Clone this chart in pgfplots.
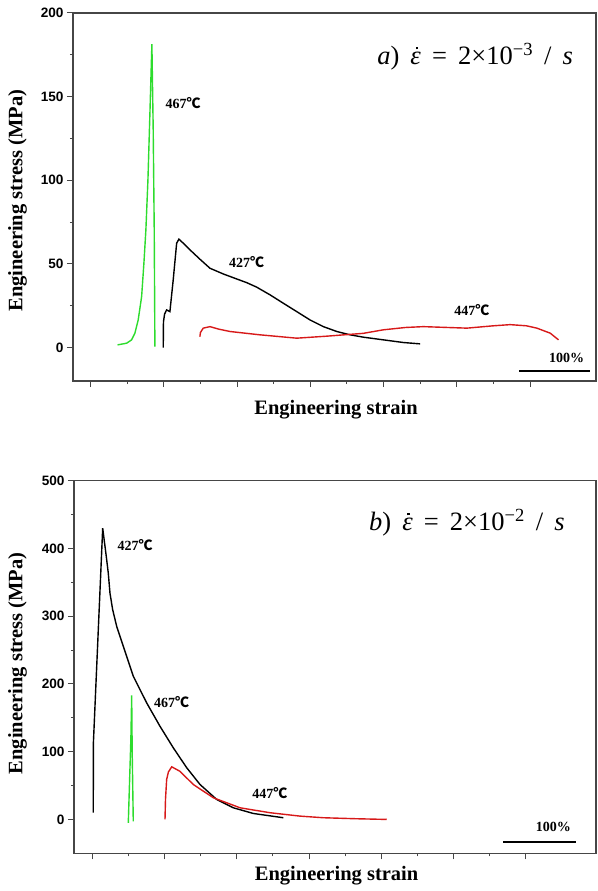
\documentclass[border=0pt]{standalone}
\usepackage{fontspec}
\setmainfont{Liberation Serif}
\newfontfamily\ticksans{Liberation Sans}
\newfontfamily\cjk{Noto Sans CJK SC}
\usepackage{pgfplots}
\pgfplotsset{compat=1.18}

\definecolor{cgreen}{RGB}{45,220,45}
\definecolor{cred}{RGB}{215,25,25}
\definecolor{caxis}{RGB}{70,70,70}

\newcommand{\degC}{{\cjk ℃}}
\newcommand{\gap}{\hspace{0.42em}}
\newcommand{\epsdot}{\textit{ε}\llap{\raisebox{0.58em}{\rule{0.1em}{0.1em}}\hspace{0.1em}}}

\tikzset{curvelab/.style={font=\fontsize{14}{15}\selectfont\bfseries}}

\pgfplotsset{
  panel/.style={
    scale only axis,
    anchor=north west,
    axis line style={caxis, line width=1.2pt},
    tick style={caxis, line width=1pt},
    tick align=outside,
    tick pos=left,
    major tick length=6pt,
    minor tick length=3pt,
    xtick={0,1,...,6},
    minor x tick num=1,
    xticklabels={},
    minor y tick num=1,
    /pgf/number format/assume math mode=true,
    yticklabel style={font=\fontsize{13.6}{14}\selectfont\ticksans\bfseries},
    label style={font=\fontsize{20.5}{22}\selectfont\bfseries},
    ylabel={Engineering stress (MPa)},
    xlabel={Engineering strain},
  },
}

\begin{document}
\begin{tikzpicture}
\useasboundingbox (0,0) rectangle (597pt,-891pt);

% ---------- panel a ----------
\begin{axis}[panel,
  at={(73pt,-13pt)}, width=523pt, height=368pt,
  xmin=-0.24, xmax=6.90, ymin=-20, ymax=200,
  ytick={0,50,...,200},
  ylabel style={at={(axis description cs:-0.106,0.49)}, anchor=center},
  xlabel style={at={(axis description cs:0.503,-0.079)}, anchor=center},
]
\addplot[cgreen, line width=1.4pt] coordinates {
(0.369,1.6) (0.492,2.6) (0.560,4.6) (0.605,8.6) (0.650,16.5) (0.697,30.5) (0.728,50.4) (0.755,70.3) (0.783,100.2) (0.810,140) (0.837,181.4) (0.855,130) (0.869,70) (0.878,0.6)};
\addplot[black, line width=1.4pt] coordinates {
(0.992,0) (0.995,15.3) (1.010,20) (1.038,22.5) (1.083,21.5) (1.128,40.4) (1.175,62.4) (1.206,64.8) (1.265,62.4) (1.357,58.4) (1.493,52.8) (1.630,47.4) (1.811,44) (1.995,41) (2.131,38.8) (2.268,36.1) (2.450,31.5) (2.631,26.5) (2.814,21.5) (2.996,16.5) (3.178,12.5) (3.361,9.6) (3.543,7.6) (3.724,6.2) (3.997,4.6) (4.271,3) (4.499,2.2)};
\addplot[cred, line width=1.4pt] coordinates {
(1.492,6.5) (1.500,9) (1.538,11.6) (1.630,12.5) (1.75,11) (1.903,9.6) (2.313,7.6) (2.814,5.6) (3.224,6.8) (3.724,8.5) (3.997,10.6) (4.3,12) (4.544,12.5) (5.137,11.6) (5.5,13) (5.728,13.7) (5.95,13) (6.093,11.6) (6.275,8.6) (6.388,4.6)};
\addplot[black, line width=2.2pt] coordinates {(5.855,-13.9) (6.82,-13.9)};
\node[curvelab] at (axis cs:6.5,-6) {100\%};
\node[curvelab] at (axis cs:1.265,146) {467\degC};
\node[curvelab] at (axis cs:2.131,50.8) {427\degC};
\node[curvelab] at (axis cs:5.205,22.5) {447\degC};
\node[font=\fontsize{26.5}{28}\selectfont, inner sep=0pt] at (axis cs:5.25,173.8) {\textit{a})\gap\epsdot\gap=\gap2×10\textsuperscript{−3}\gap/\gap\textit{s}};
\end{axis}

% ---------- panel b ----------
\begin{axis}[panel,
  at={(74pt,-480.7pt)}, width=522pt, height=372.6pt,
  xmin=-0.259, xmax=6.98, ymin=-50, ymax=500,
  ytick={0,100,...,500},
  ylabel style={at={(axis description cs:-0.108,0.51)}, anchor=center},
  xlabel style={at={(axis description cs:0.503,-0.061)}, anchor=center},
]
\addplot[black, line width=1.4pt] coordinates {
(0.008,9.9) (0.010,113) (0.139,430) (0.171,403) (0.194,383.5) (0.216,364) (0.240,334) (0.277,309.7) (0.333,285) (0.425,255.6) (0.563,211.4) (0.749,172) (0.933,137.6) (1.118,105.7) (1.304,76.3) (1.488,51.6) (1.720,29.5) (1.950,17.2) (2.227,8.8) (2.644,2.5)};
\addplot[cgreen, line width=1.4pt] coordinates {
(0.494,-5) (0.530,120) (0.541,183) (0.548,100) (0.563,-3)};
\addplot[cred, line width=1.4pt] coordinates {
(1.003,0) (1.010,30) (1.026,59) (1.050,70) (1.096,77.7) (1.211,71) (1.395,51.6) (1.673,32) (2.043,17.2) (2.459,9.9) (2.875,4.9) (3.198,2.5) (3.662,1) (4.078,0)};
\addplot[black, line width=2.2pt] coordinates {(5.695,-33.5) (6.703,-33.5)};
\node[curvelab] at (axis cs:6.39,-11.4) {100\%};
\node[curvelab] at (axis cs:0.587,405.6) {427\degC};
\node[curvelab] at (axis cs:1.096,173.6) {467\degC};
\node[curvelab] at (axis cs:2.459,39) {447\degC};
\node[font=\fontsize{26.5}{28}\selectfont, inner sep=0pt] at (axis cs:5.19,437.6) {\textit{b})\gap\epsdot\gap=\gap2×10\textsuperscript{−2}\gap/\gap\textit{s}};
\end{axis}
\end{tikzpicture}
\end{document}
